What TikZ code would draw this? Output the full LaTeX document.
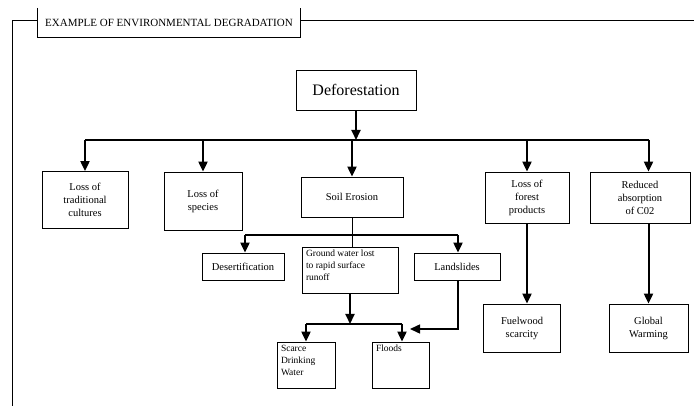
\documentclass[tikz,border=0pt]{standalone}
\usepackage{fontspec}
\setmainfont{Liberation Serif}
\usetikzlibrary{arrows.meta}

\begin{document}
\begin{tikzpicture}[x=1pt,y=-1pt,
    box/.style={draw, thick, fill=white, align=center, inner sep=2pt, font=\fontsize{10.5}{13}\selectfont},
    arr/.style={-{Triangle[length=10pt,width=9pt]}, line width=2pt},
    bus/.style={line width=2.8pt}]

    \useasboundingbox (0,0) rectangle (694,406);

    % Frame with title tab
    \coordinate (corner) at (12,20);
    \draw[thick] (12,406) -- (corner) -- (694,20);
    \node[fill=white, minimum width=262pt, minimum height=29pt, font=\fontsize{11}{13}\selectfont] (title) at (169,22.5) {EXAMPLE OF ENVIRONMENTAL DEGRADATION};
    \draw[thick] (title.north west) |- (title.south east) -- (title.north east);

    % Top cause
    \node[box, minimum width=120pt, minimum height=40pt, font=\fontsize{16}{18}\selectfont] (defo) at (356,90) {Deforestation};

    % First level effects
    \node[box, minimum width=86pt, minimum height=57pt] (trad) at (85,200) {Loss of\\traditional\\cultures};
    \node[box, minimum width=78pt, minimum height=58pt] (species) at (203,201) {Loss of\\species};
    \node[box, minimum width=102pt, minimum height=40pt] (soil) at (352,197) {Soil Erosion};
    \node[box, minimum width=84pt, minimum height=51pt] (forest) at (527,197.5) {Loss of\\forest\\products};
    \node[box, minimum width=100pt, minimum height=51pt] (reduced) at (640,197.5) {Reduced\\absorption\\of C02};

    % Soil erosion effects
    \node[box, minimum width=82pt, minimum height=27pt] (desert) at (243,266.5) {Desertification};
    \node[box, minimum width=96pt, minimum height=46pt] (ground) at (350,270)
        {\parbox[t][40pt][t]{88pt}{\fontsize{9.5}{12}\selectfont Ground water lost\\to rapid surface\\runoff}};
    \node[box, minimum width=86pt, minimum height=27pt] (land) at (457,266.5) {Landslides};

    % Last level
    \node[box, minimum width=58pt, minimum height=46pt] (scarce) at (306,365)
        {\parbox[t][40pt][t]{50pt}{\fontsize{9.5}{12}\selectfont Scarce\\Drinking\\Water}};
    \node[box, minimum width=57pt, minimum height=46pt] (floods) at (400.5,365)
        {\parbox[t][40pt][t]{49pt}{\fontsize{9.5}{12}\selectfont Floods}};
    \node[box, minimum width=77pt, minimum height=48pt] (fuel) at (522,328) {Fuelwood\\scarcity};
    \node[box, minimum width=79pt, minimum height=48pt] (warming) at (648.5,328) {Global\\Warming};

    % Bus lines
    \coordinate (bus1) at (0,140);
    \coordinate (bus2) at (0,235);
    \coordinate (bus3) at (0,324);
    \draw[bus] (bus1 -| trad) -- (bus1 -| warming);
    \draw[bus] (bus2 -| 245,0) -- (bus2 -| 458,0);
    \draw[bus] (bus3 -| scarce) -- (bus3 -| 402,0);

    % Arrows from deforestation
    \draw[arr] (defo.south) -- (defo |- bus1);
    \draw[arr] (bus1 -| trad) -- (trad.north);
    \draw[arr] (bus1 -| species) -- (species.north);
    \draw[arr] (bus1 -| soil) -- (soil.north);
    \draw[arr] (bus1 -| forest) -- (forest.north);
    \draw[arr] (bus1 -| warming) -- (warming |- reduced.north);

    % Arrows from soil erosion
    \draw[thick] (soil.south) -- (soil |- ground.north);
    \draw[arr] (bus2 -| 245,0) -- (245,0 |- desert.north);
    \draw[arr] (bus2 -| 458,0) -- (458,0 |- land.north);

    % Water effects
    \draw[arr] (ground.south) -- (ground |- bus3);
    \draw[arr] (bus3 -| scarce) -- (scarce.north);
    \draw[arr] (bus3 -| 402,0) -- (402,0 |- floods.north);
    \coordinate (landtip) at (410,329);
    \draw[-{Triangle[length=10pt,width=9pt]}, line width=1.5pt] (458,0 |- land.south) |- (landtip);

    % Other chains
    \draw[arr] (forest.south) -- (forest |- fuel.north);
    \draw[arr] (warming |- reduced.south) -- (warming.north);

\end{tikzpicture}
\end{document}
